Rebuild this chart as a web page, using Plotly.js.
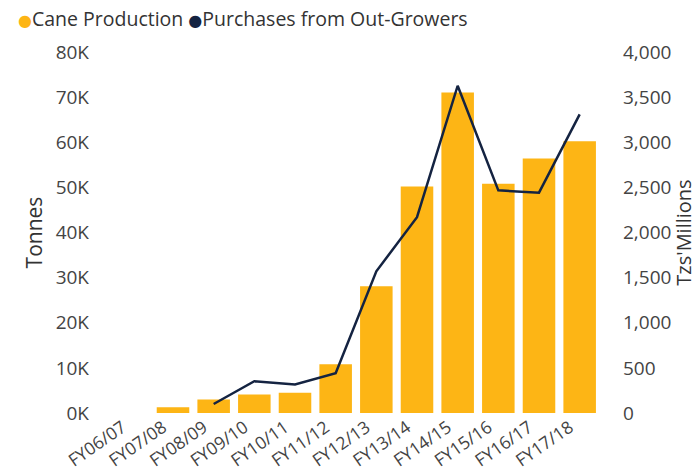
<!DOCTYPE html>
<html>
<head>
<meta charset="utf-8">
<script src="https://cdn.plot.ly/plotly-3.0.1.min.js"></script>
<style>html,body{margin:0;padding:0;background:#fff;}#chart{width:697px;height:469px;}</style>
</head>
<body>
<div id="chart"></div>
<script>
const categories = ["FY06/07","FY07/08","FY08/09","FY09/10","FY10/11","FY11/12","FY12/13","FY13/14","FY14/15","FY15/16","FY16/17","FY17/18"];
const caneProduction = [0, 1300, 3000, 4100, 4500, 10800, 28100, 50200, 71000, 50800, 56400, 60200];
const purchasesOutGrowers = [null, null, 100, 352, 315, 441, 1570, 2170, 3626, 2467, 2441, 3308];
const leftTickVals = [0,10000,20000,30000,40000,50000,60000,70000,80000];
const leftTickText = ["0K","10K","20K","30K","40K","50K","60K","70K","80K"];
const seriesNames = ["Cane Production", "Purchases from Out-Growers"];

const FONT = "Open Sans, Noto Sans, sans-serif";
const BAR = "#FDB515";
const LINE = "#142341";

const traces = [
  {type:"bar", x:categories, y:caneProduction, name:seriesNames[0], marker:{color:BAR}, showlegend:false, yaxis:"y"},
  {type:"scatter", mode:"lines", x:categories, y:purchasesOutGrowers, name:seriesNames[1], line:{color:LINE, width:2.5}, yaxis:"y2", showlegend:false, connectgaps:false}
];

const dot = c => '<span style="color:' + c + ';font-family:DejaVu Sans;font-size:16px">●</span>';
const legendText = dot(BAR) + seriesNames[0] + ' ' + dot(LINE) + seriesNames[1];

const layout = {
  width:697, height:469,
  margin:{l:112, r:97, t:52, b:56, pad:0},
  paper_bgcolor:"#fff", plot_bgcolor:"#fff",
  font:{family:FONT, color:"#444", size:19},
  bargap:0.2,
  showlegend:false,
  annotations:[{xref:"paper", yref:"paper", x:-0.196, xanchor:"left", y:1.092, yanchor:"middle",
                text:legendText, showarrow:false, font:{family:FONT, size:19.5, color:"#333"}}],
  xaxis:{type:"category", tickangle:-35, showgrid:false, zeroline:false, showline:false, ticks:"",
         ticklabelstandoff:0, ticklabelshift:-10,
         tickfont:{family:FONT, size:17.5, color:"#444"}, automargin:false},
  yaxis:{range:[0,80000], tickvals:leftTickVals, ticktext:leftTickText, showgrid:false, zeroline:false,
         showline:false, ticks:"", ticklabelstandoff:22,
         tickfont:{family:FONT, size:19, color:"#444"},
         title:{text:"Tonnes", font:{family:FONT, size:21, color:"#333"}, standoff:7}, automargin:false},
  yaxis2:{range:[0,4000], dtick:500, tickformat:",d", overlaying:"y", side:"right", showgrid:false,
          zeroline:false, showline:false, ticks:"", ticklabelstandoff:22,
          tickfont:{family:FONT, size:19, color:"#444"},
          title:{text:"Tzs'Millions", font:{family:FONT, size:20, color:"#333"}, standoff:6}, automargin:false}
};

Plotly.newPlot("chart", traces, layout, {displayModeBar:false, staticPlot:true});
</script>
</body>
</html>
